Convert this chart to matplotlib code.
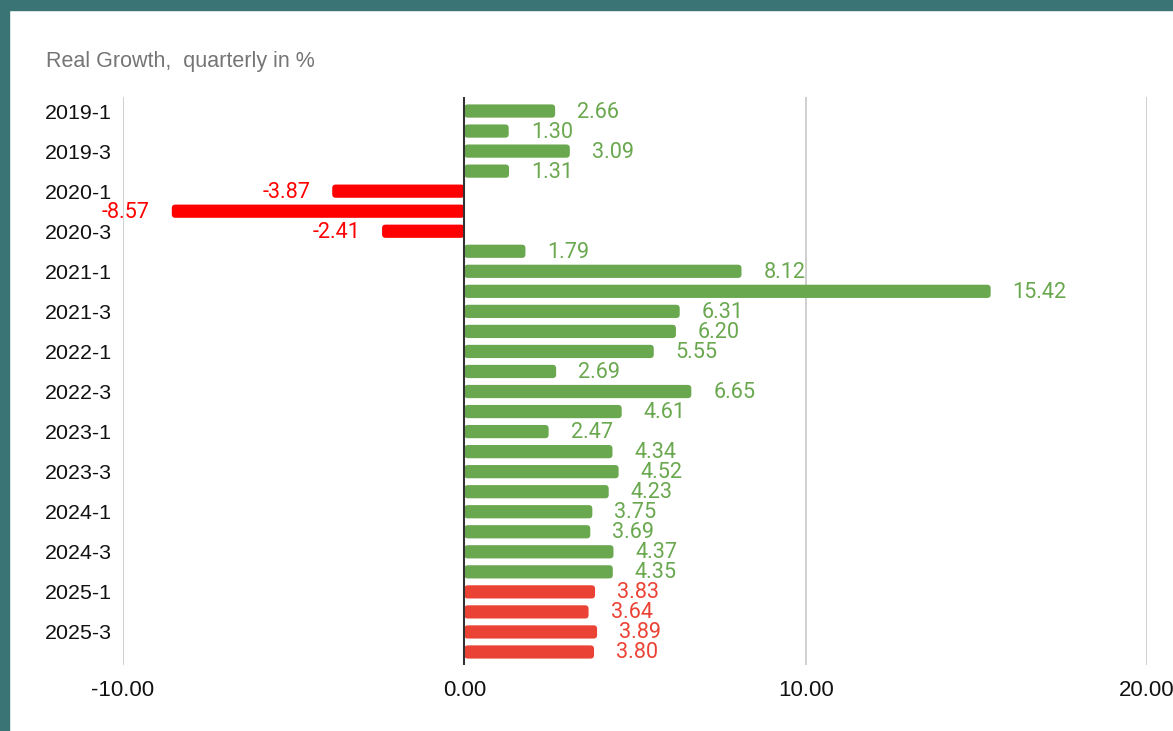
import matplotlib.pyplot as plt
from matplotlib.patches import FancyBboxPatch, Rectangle

# Quarterly real growth, %
quarters = [f"{y}-{q}" for y in range(2019, 2026) for q in range(1, 5)]
growth = [2.66, 1.30, 3.09, 1.31,
          -3.87, -8.57, -2.41, 1.79,
          8.12, 15.42, 6.31, 6.20,
          5.55, 2.69, 6.65, 4.61,
          2.47, 4.34, 4.52, 4.23,
          3.75, 3.69, 4.37, 4.35,
          3.83, 3.64, 3.89, 3.80]
forecast_from = "2025-1"

tick_labels = quarters[::2]
x_ticks = [-10, 0, 10, 20]

green = '#6aa84f'
red = '#ff0000'
forecast_red = '#ea4335'

W, H = 1173, 731
fig = plt.figure(figsize=(W / 100, H / 100), dpi=100)
fig.patch.set_facecolor('white')

# teal frame on top and left
fig.add_artist(Rectangle((0, 1 - 10 / H), 1, 10 / H, transform=fig.transFigure,
                         color='#3b7474', zorder=0))
fig.add_artist(Rectangle((0, 0), 9 / W, 1, transform=fig.transFigure,
                         color='#3b7474', zorder=0))

ax_left, ax_right = 123, 1147
ax_top, ax_bottom = 97, 665
ax = fig.add_axes([ax_left / W, 1 - ax_bottom / H,
                   (ax_right - ax_left) / W, (ax_bottom - ax_top) / H])

xmin, xmax = -10, 20
ymin, ymax = 27.65, -0.7
ax.set_xlim(xmin, xmax)
ax.set_ylim(ymin, ymax)

# pixels per data unit, used to keep the rounded corners circular
px_x = (ax_right - ax_left) / (xmax - xmin)
px_y = (ax_bottom - ax_top) / abs(ymin - ymax)
radius_px = 3.5
bar_h = 0.66

fi = quarters.index(forecast_from)
for i, (q, v) in enumerate(zip(quarters, growth)):
    if i >= fi:
        c = forecast_red
    elif v < 0:
        c = red
    else:
        c = green
    x0 = min(0, v)
    box = FancyBboxPatch((x0, i - bar_h / 2), abs(v), bar_h,
                         boxstyle=f"round,pad=0,rounding_size={radius_px / px_x}",
                         mutation_aspect=px_x / px_y,
                         facecolor=c, edgecolor='none', zorder=3)
    ax.add_patch(box)
    off = 22 / px_x
    if v >= 0:
        ax.text(v + off, i + 0.05, f"{v:.2f}", ha='left', va='center', color=c,
                fontsize=15.6, family='Roboto', zorder=4)
    else:
        ax.text(v - off, i + 0.05, f"{v:.2f}", ha='right', va='center', color=c,
                fontsize=15.6, family='Roboto', zorder=4)

# gridlines and zero line
for xt in x_ticks:
    if xt == 0:
        ax.axvline(xt, color='#333333', lw=1.5, zorder=5)
    else:
        ax.axvline(xt, color='#cccccc', lw=1.3, zorder=1)

ax.set_xticks(x_ticks)
ax.set_xticklabels([f"{t:.2f}" for t in x_ticks], family='Liberation Sans',
                   fontsize=16, color='#111111')
ax.set_yticks(range(0, len(quarters), 2))
ax.set_yticklabels(tick_labels, family='Liberation Sans', fontsize=15.4,
                   color='#111111')
ax.tick_params(axis='both', length=0)
ax.tick_params(axis='x', pad=11)
ax.tick_params(axis='y', pad=8)
for s in ax.spines.values():
    s.set_visible(False)

fig.text(46 / W, 1 - 61 / H, "Real Growth,  quarterly in %", ha='left', va='center',
         family='Liberation Sans', fontsize=15.5, color='#757575')

fig.savefig('out.png', dpi=100)
